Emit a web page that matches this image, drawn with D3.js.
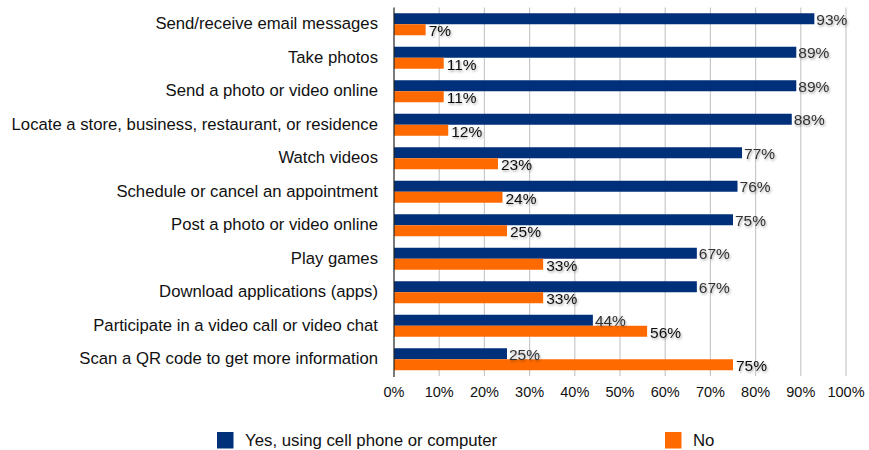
<!DOCTYPE html>
<html>
<head>
<meta charset="utf-8">
<script src="https://cdn.jsdelivr.net/npm/d3@7"></script>
<style>
  body { margin: 0; background: #fff; }
  svg { font-family: "Liberation Sans", Arial, Helvetica, sans-serif; }
</style>
</head>
<body>
<div id="chart"></div>
<script>
// Chart data
const categories = [
  'Send/receive email messages',
  'Take photos',
  'Send a photo or video online',
  'Locate a store, business, restaurant, or residence',
  'Watch videos',
  'Schedule or cancel an appointment',
  'Post a photo or video online',
  'Play games',
  'Download applications (apps)',
  'Participate in a video call or video chat',
  'Scan a QR code to get more information'
]
const yesValues = [93, 89, 89, 88, 77, 76, 75, 67, 67, 44, 25]
const noValues = [7, 11, 11, 12, 23, 24, 25, 33, 33, 56, 75]
const seriesNames = ['Yes, using cell phone or computer', 'No']
const ticks = [0, 10, 20, 30, 40, 50, 60, 70, 80, 90, 100]

const width = 869
const height = 450
const margin = { top: 7.5, left: 394, right: 23, bottom: 74 }

const svg = d3.select('#chart').append('svg').attr('width', width).attr('height', height)

// soft shadow for value labels
const filter = svg.append('defs').append('filter').attr('id', 'shadow')
  .attr('x', '-20%').attr('y', '-40%').attr('width', '140%').attr('height', '180%')
filter.append('feDropShadow')
  .attr('dx', 1).attr('dy', 1.5).attr('stdDeviation', 1.2)
  .attr('flood-color', '#000').attr('flood-opacity', 0.35)

const x = d3.scaleLinear().domain([0, 100]).range([margin.left, width - margin.right])
const y = d3.scaleBand().domain(categories).range([margin.top, height - margin.bottom])

const color = d3.scaleOrdinal().domain(seriesNames).range(['#00307a', '#ff6a00'])

// Gridlines
svg.append('g')
  .selectAll('line')
  .data(ticks.slice(1))
  .join('line')
  .attr('x1', d => x(d)).attr('x2', d => x(d))
  .attr('y1', margin.top).attr('y2', height - margin.bottom)
  .attr('stroke', '#c8c8c8')
  .attr('stroke-width', 1.2)

// Bars
const barH = 11
const groups = svg.append('g')
  .selectAll('g')
  .data(categories)
  .join('g')
  .attr('transform', d => `translate(0, ${y(d) + y.bandwidth() / 2})`)

groups.append('rect')
  .attr('x', x(0))
  .attr('y', -barH)
  .attr('width', (d, i) => x(yesValues[i]) - x(0))
  .attr('height', barH)
  .attr('fill', color(seriesNames[0]))

groups.append('rect')
  .attr('x', x(0))
  .attr('y', 0)
  .attr('width', (d, i) => x(noValues[i]) - x(0))
  .attr('height', barH)
  .attr('fill', color(seriesNames[1]))

// Value labels
groups.append('text')
  .attr('x', (d, i) => x(yesValues[i]) + 2)
  .attr('y', -barH / 2 + 6)
  .attr('font-size', '15.5px')
  .attr('fill', '#333')
  .attr('filter', 'url(#shadow)')
  .text((d, i) => yesValues[i] + '%')

groups.append('text')
  .attr('x', (d, i) => x(noValues[i]) + 3)
  .attr('y', barH / 2 + 6.5)
  .attr('font-size', '15.5px')
  .attr('fill', '#111')
  .attr('filter', 'url(#shadow)')
  .text((d, i) => noValues[i] + '%')

// Category labels
svg.append('g')
  .selectAll('text')
  .data(categories)
  .join('text')
  .attr('x', margin.left - 16)
  .attr('y', d => y(d) + y.bandwidth() / 2 + 5)
  .attr('text-anchor', 'end')
  .attr('font-size', '16.7px')
  .attr('fill', '#111')
  .text(d => d)

// X axis tick labels
svg.append('g')
  .selectAll('text')
  .data(ticks)
  .join('text')
  .attr('x', d => x(d))
  .attr('y', height - margin.bottom + 21)
  .attr('text-anchor', 'middle')
  .attr('font-size', '14.5px')
  .attr('fill', '#111')
  .text(d => d + '%')

// Left axis line
svg.append('line')
  .attr('x1', x(0)).attr('x2', x(0))
  .attr('y1', margin.top).attr('y2', height - margin.bottom + 1)
  .attr('stroke', '#222')
  .attr('stroke-width', 1.2)

// Legend
const legendX = [217, 665]
const legend = svg.append('g')
  .selectAll('g')
  .data(seriesNames)
  .join('g')
  .attr('transform', (d, i) => `translate(${legendX[i]}, 432)`)

legend.append('rect')
  .attr('width', 16.5).attr('height', 16.5)
  .attr('fill', d => color(d))

legend.append('text')
  .attr('x', 28)
  .attr('y', 14)
  .attr('font-size', '16.8px')
  .attr('fill', '#111')
  .text(d => d)
</script>
</body>
</html>
